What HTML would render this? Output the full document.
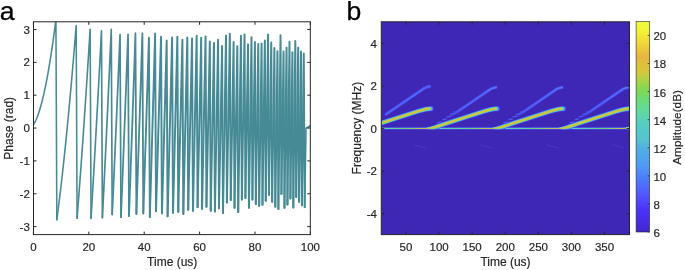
<!DOCTYPE html>
<html lang="en"><head><meta charset="utf-8"><title>Figure</title>
<style>html,body{margin:0;padding:0;background:#fff;overflow:hidden}svg{display:block}</style>
</head><body>
<svg width="685" height="270" viewBox="0 0 685 270" font-family="Liberation Sans, Arial, Helvetica, sans-serif" fill="#262626">
<defs>
<clipPath id="cl"><rect x="33.5" y="21.8" width="276.80" height="212.80"/></clipPath>
<clipPath id="cr"><rect x="381.3" y="21.8" width="248.20" height="212.80"/></clipPath>
<linearGradient id="par" x1="0" y1="1" x2="0" y2="0"><stop offset="0.0000" stop-color="#4028C8"/><stop offset="0.0573" stop-color="#482DEB"/><stop offset="0.1047" stop-color="#4B32FA"/><stop offset="0.1333" stop-color="#4E41FF"/><stop offset="0.1900" stop-color="#505FFF"/><stop offset="0.2667" stop-color="#4B82FA"/><stop offset="0.3133" stop-color="#509BF5"/><stop offset="0.4000" stop-color="#50AFE1"/><stop offset="0.4367" stop-color="#55C3D2"/><stop offset="0.5133" stop-color="#55CDC3"/><stop offset="0.5333" stop-color="#5AD2B9"/><stop offset="0.5887" stop-color="#64DC96"/><stop offset="0.6367" stop-color="#6CDA6E"/><stop offset="0.6667" stop-color="#7DD75A"/><stop offset="0.6980" stop-color="#96D74B"/><stop offset="0.7220" stop-color="#AFD246"/><stop offset="0.7600" stop-color="#D7C83A"/><stop offset="0.8000" stop-color="#E1BE3C"/><stop offset="0.8307" stop-color="#E8B441"/><stop offset="0.8833" stop-color="#EED03A"/><stop offset="0.9333" stop-color="#F4E837"/><stop offset="0.9667" stop-color="#F0F73A"/><stop offset="1.0000" stop-color="#EEFA3C"/></linearGradient>
<filter id="wb" filterUnits="userSpaceOnUse" x="20" y="10" width="300" height="235"><feGaussianBlur stdDeviation="0.3"/></filter>
<filter id="hb" filterUnits="userSpaceOnUse" x="370" y="10" width="270" height="235"><feGaussianBlur stdDeviation="0.55"/></filter>
<linearGradient id="h2" gradientUnits="objectBoundingBox" x1="0" y1="1" x2="1" y2="0"><stop offset="0" stop-color="#4848E6" stop-opacity="0"/><stop offset="0.2" stop-color="#4848E6" stop-opacity="0.9"/><stop offset="1" stop-color="#4A50F0"/></linearGradient>
<linearGradient id="h2b" gradientUnits="objectBoundingBox" x1="0" y1="1" x2="1" y2="0"><stop offset="0" stop-color="#4E60FF" stop-opacity="0"/><stop offset="0.25" stop-color="#4E60FF" stop-opacity="0.9"/><stop offset="0.85" stop-color="#5068FF"/><stop offset="1" stop-color="#5078FF"/></linearGradient>
<linearGradient id="dc" gradientUnits="userSpaceOnUse" x1="425.70" y1="0" x2="491.87" y2="0" spreadMethod="repeat"><stop offset="0" stop-color="#E6B73F"/><stop offset="0.1" stop-color="#E6B73F"/><stop offset="0.18" stop-color="#57CFC0"/><stop offset="0.45" stop-color="#61D9A0"/><stop offset="0.7" stop-color="#75D863"/><stop offset="0.9" stop-color="#BBCF42"/><stop offset="0.97" stop-color="#E1BE3C"/><stop offset="1" stop-color="#E6B73F"/></linearGradient>
</defs>
<rect width="685" height="270" fill="#fff"/>
<g font-size="26.6" fill="#000" stroke="#000" stroke-width="0.25">
<text x="-0.3" y="19.6">a</text>
<text x="346.4" y="19.6">b</text>
</g>
<g clip-path="url(#cl)"><g filter="url(#wb)" fill="none" stroke="#458A95" stroke-linejoin="round" stroke-linecap="round"><polyline stroke-width="1.55" points="33.40,124.77 34.10,123.65 34.81,122.40 35.51,121.01 36.22,119.48 36.92,117.81 37.62,115.99 38.33,114.04 39.03,111.95 39.73,109.72 40.44,107.34 41.14,104.83 41.85,102.18 42.55,99.39 43.25,96.45 43.96,93.38 44.66,90.17 45.36,86.82 46.07,83.32 46.77,79.69 47.48,75.92 48.18,72.00 48.88,67.95 49.59,63.76 50.29,59.42 50.99,54.95 51.70,50.33 52.40,45.58 53.11,40.69 53.81,35.65 54.51,30.48 55.22,25.16 55.92,19.71 56.83,219.64"/><polyline stroke-width="1.55" points="56.83,219.64 56.83,219.64 57.55,214.20 58.27,208.62 58.98,202.91 59.70,197.07 60.42,191.09 61.13,184.98 61.85,178.73 62.57,172.35 63.28,165.84 64.00,159.19 64.71,152.41 65.43,145.49 66.15,138.44 66.86,131.25 67.58,123.93 68.30,116.48 69.01,108.89 69.73,101.17 70.44,93.31 71.16,85.32 71.88,77.20 72.59,68.94 73.31,60.54 74.03,52.01 74.74,43.35 75.46,34.55 76.18,25.62 77.09,218.32"/><polyline stroke-width="1.59" points="77.09,218.32 77.09,218.32 77.81,208.98 78.54,199.51 79.26,189.90 79.99,180.15 80.71,170.26 81.44,160.24 82.16,150.07 82.89,139.77 83.61,129.34 84.33,118.77 85.06,108.05 85.78,97.21 86.51,86.22 87.23,75.10 87.96,63.84 88.68,52.44 89.41,40.91 90.13,29.24 91.04,218.32"/><polyline stroke-width="1.63" points="91.04,218.32 91.04,218.32 91.74,206.72 92.43,194.99 93.13,183.13 93.83,171.14 94.52,159.03 95.22,146.79 95.91,134.42 96.61,121.93 97.30,109.30 98.00,96.55 98.69,83.67 99.39,70.67 100.08,57.53 100.78,44.27 101.47,30.88 102.39,217.66"/><polyline stroke-width="1.67" points="102.39,217.66 102.39,217.66 103.13,202.78 103.87,187.74 104.61,172.56 105.35,157.22 106.10,141.74 106.84,126.11 107.58,110.34 108.32,94.41 109.06,78.34 109.80,62.12 110.54,45.75 111.28,29.24 112.20,214.38"/><polyline stroke-width="1.71" points="112.20,214.38 112.20,214.38 112.91,198.69 113.63,182.87 114.34,166.91 115.06,150.83 115.77,134.60 116.48,118.25 117.20,101.77 117.91,85.15 118.63,68.39 119.34,51.51 120.05,34.49 120.97,217.17"/><polyline stroke-width="1.75" points="120.97,217.17 120.97,217.17 121.68,199.49 122.39,181.68 123.09,163.73 123.80,145.65 124.51,127.43 125.22,109.08 125.93,90.59 126.64,71.97 127.35,53.22 128.06,34.33 128.97,216.02"/><polyline stroke-width="1.79" points="128.97,216.02 128.97,216.02 129.69,196.27 130.41,176.38 131.13,156.34 131.86,136.17 132.58,115.85 133.30,95.39 134.02,74.80 134.74,54.06 135.46,33.18 136.38,213.89"/><polyline stroke-width="1.83" points="136.38,213.89 136.38,213.89 137.13,191.87 137.88,169.71 138.63,147.39 139.38,124.92 140.13,102.29 140.89,79.52 141.64,56.59 142.39,33.51 143.30,213.39"/><polyline stroke-width="1.87" points="143.30,213.39 143.30,213.39 144.01,191.90 144.71,170.27 145.41,148.52 146.11,126.63 146.81,104.61 147.52,82.47 148.22,60.19 148.92,37.78 149.83,217.01"/><polyline stroke-width="1.91" points="149.83,217.01 149.83,217.01 150.59,191.27 151.34,165.37 152.10,139.32 152.85,113.11 153.61,86.73 154.36,60.20 155.12,33.51 156.03,211.26"/><polyline stroke-width="1.95" points="156.03,211.26 156.03,211.26 156.74,186.74 157.46,162.09 158.17,137.31 158.88,112.38 159.60,87.32 160.31,62.13 161.02,36.79 161.94,213.39"/><polyline stroke-width="1.95" points="161.94,213.39 161.94,213.39 162.73,184.98 163.52,156.40 164.31,127.65 165.10,98.74 165.89,69.66 166.68,40.41 167.59,216.35"/><polyline stroke-width="1.95" points="167.59,216.35 167.59,216.35 168.34,186.93 169.10,157.35 169.85,127.61 170.60,97.72 171.36,67.66 172.11,37.45 173.02,212.74"/><polyline stroke-width="1.95" points="173.02,212.74 173.02,212.74 173.75,183.77 174.47,154.66 175.19,125.41 175.91,96.02 176.63,66.48 177.35,36.79 178.26,211.75"/><polyline stroke-width="1.95" points="178.26,211.75 178.26,211.75 179.09,177.73 179.92,143.51 180.75,109.11 181.57,74.52 182.40,39.75 183.32,213.89"/><polyline stroke-width="1.95" points="183.32,213.89 183.32,213.89 184.11,178.96 184.91,143.85 185.71,108.56 186.50,73.09 187.30,37.45 188.21,209.78"/><polyline stroke-width="1.95" points="188.21,209.78 188.21,209.78 188.98,175.84 189.75,141.73 190.52,107.46 191.28,73.03 192.05,38.44 192.97,210.77"/><polyline stroke-width="1.95" points="192.97,210.77 192.97,210.77 193.71,176.09 194.45,141.25 195.19,106.26 195.93,71.11 196.67,35.81 197.58,207.15"/><polyline stroke-width="1.95" points="197.58,207.15 197.58,207.15 198.30,173.56 199.01,139.83 199.73,105.95 200.45,71.94 201.16,37.78 202.08,208.80"/><polyline stroke-width="1.95" points="202.08,208.80 202.08,208.80 202.77,174.60 203.46,140.27 204.16,105.80 204.85,71.20 205.54,36.46 206.46,206.82"/><polyline stroke-width="1.95" points="206.46,206.82 206.46,206.82 207.30,165.76 208.14,124.49 208.98,83.04 209.82,41.39 210.73,210.77"/><polyline stroke-width="1.95" points="210.73,210.77 210.73,210.77 211.55,169.11 212.36,127.27 213.18,85.25 213.99,43.03 214.91,211.42"/><polyline stroke-width="1.95" points="214.91,211.42 214.91,211.42 215.70,168.78 216.49,125.95 217.28,82.94 218.08,39.75 218.99,208.30"/><polyline stroke-width="1.95" points="218.99,208.30 218.99,208.30 219.76,167.97 220.53,127.47 221.30,86.81 222.07,45.99 222.99,213.07"/><polyline stroke-width="1.95" points="222.99,213.07 222.99,213.07 223.74,168.92 224.49,124.61 225.24,80.13 225.99,35.48 226.91,202.55"/><polyline stroke-width="1.95" points="226.91,202.55 226.91,202.55 227.64,160.61 228.37,118.50 229.10,76.25 229.83,33.84 230.75,199.93"/><polyline stroke-width="1.95" points="230.75,199.93 230.75,199.93 231.46,160.66 232.18,121.26 232.89,81.73 233.60,42.05 234.52,207.65"/><polyline stroke-width="1.95" points="234.52,207.65 234.52,207.65 235.21,167.52 235.91,127.25 236.61,86.85 237.30,46.32 238.22,212.08"/><polyline stroke-width="1.95" points="238.22,212.08 238.22,212.08 239.13,153.57 240.03,94.82 240.94,35.81 241.86,199.60"/><polyline stroke-width="1.95" points="241.86,199.60 241.86,199.60 242.74,144.79 243.63,89.76 244.52,34.49 245.43,197.95"/><polyline stroke-width="1.95" points="245.43,197.95 245.43,197.95 246.30,146.96 247.17,95.75 248.04,44.35 248.95,207.65"/><polyline stroke-width="1.95" points="248.95,207.65 248.95,207.65 249.80,151.02 250.65,94.18 251.50,37.12 252.41,199.60"/><polyline stroke-width="1.95" points="252.41,199.60 252.41,199.60 253.24,147.27 254.08,94.76 254.91,42.05 255.82,204.03"/><polyline stroke-width="1.95" points="255.82,204.03 255.82,204.03 256.64,150.88 257.45,97.55 258.27,44.02 259.18,205.67"/><polyline stroke-width="1.95" points="259.18,205.67 259.18,205.67 259.98,151.76 260.78,97.65 261.58,43.36 262.49,204.69"/><polyline stroke-width="1.95" points="262.49,204.69 262.49,204.69 263.28,150.11 264.06,95.35 264.84,40.41 265.76,200.75"/><polyline stroke-width="1.95" points="265.76,200.75 265.76,200.75 266.52,145.51 267.29,90.09 268.06,34.49 268.98,194.67"/><polyline stroke-width="1.95" points="268.98,194.67 268.98,194.67 269.73,144.06 270.49,93.30 271.24,42.38 272.15,201.73"/><polyline stroke-width="1.95" points="272.15,201.73 272.15,201.73 272.89,150.63 273.64,99.37 274.38,47.96 275.29,206.82"/><polyline stroke-width="1.95" points="275.29,206.82 275.29,206.82 276.02,155.12 276.75,103.26 277.47,51.25 278.39,209.12"/><polyline stroke-width="1.95" points="278.39,209.12 278.39,209.12 279.10,151.30 279.82,93.31 280.53,35.15 281.45,194.01"/><polyline stroke-width="1.95" points="281.45,194.01 281.45,194.01 282.15,146.66 282.85,99.19 283.55,51.58 284.47,207.81"/><polyline stroke-width="1.95" points="284.47,207.81 284.47,207.81 285.50,127.88 286.54,47.63 287.46,204.52"/><polyline stroke-width="1.95" points="287.46,204.52 287.46,204.52 288.47,123.28 289.49,41.72 290.41,198.45"/><polyline stroke-width="1.95" points="290.41,198.45 290.41,198.45 291.41,125.48 292.41,52.23 293.33,207.48"/><polyline stroke-width="1.95" points="293.33,207.48 293.33,207.48 294.31,124.43 295.30,41.06 296.22,196.97"/><polyline stroke-width="1.95" points="296.22,196.97 296.22,196.97 297.19,122.44 298.16,47.63 299.07,201.73"/><polyline stroke-width="1.95" points="299.07,201.73 299.07,201.73 300.03,126.79 300.99,51.58 301.90,205.18"/><polyline stroke-width="1.95" points="301.90,205.18 301.90,205.18 302.84,129.49 303.78,53.55 304.70,207.15"/><polyline stroke-width="1.60" points="304.70,207.15 304.70,207.15 305.36,167.65 306.02,128.05 306.52,128.05 308.46,127.06 310.40,125.42"/></g></g>
<rect x="33.5" y="21.8" width="276.80" height="212.80" fill="none" stroke="#262626" stroke-width="1.0"/>
<path d="M33.40 234.6v-3M33.40 21.8v3M88.80 234.6v-3M88.80 21.8v3M144.20 234.6v-3M144.20 21.8v3M199.60 234.6v-3M199.60 21.8v3M255.00 234.6v-3M255.00 21.8v3M310.40 234.6v-3M310.40 21.8v3M33.5 226.60h3M310.3 226.60h-3M33.5 193.75h3M310.3 193.75h-3M33.5 160.90h3M310.3 160.90h-3M33.5 128.05h3M310.3 128.05h-3M33.5 95.20h3M310.3 95.20h-3M33.5 62.35h3M310.3 62.35h-3M33.5 29.50h3M310.3 29.50h-3" stroke="#262626" stroke-width="1.0" fill="none"/>
<g font-size="11.5" stroke="#262626" stroke-width="0.18">
<text x="33.40" y="251.0" text-anchor="middle">0</text>
<text x="88.80" y="251.0" text-anchor="middle">20</text>
<text x="144.20" y="251.0" text-anchor="middle">40</text>
<text x="199.60" y="251.0" text-anchor="middle">60</text>
<text x="255.00" y="251.0" text-anchor="middle">80</text>
<text x="310.40" y="251.0" text-anchor="middle">100</text>
<text x="29.8" y="230.70" text-anchor="end">-3</text>
<text x="29.8" y="197.85" text-anchor="end">-2</text>
<text x="29.8" y="165.00" text-anchor="end">-1</text>
<text x="29.8" y="132.15" text-anchor="end">0</text>
<text x="29.8" y="99.30" text-anchor="end">1</text>
<text x="29.8" y="66.45" text-anchor="end">2</text>
<text x="29.8" y="33.60" text-anchor="end">3</text>
</g>
<g font-size="12.0" text-anchor="middle" stroke="#262626" stroke-width="0.18">
<text x="172.2" y="266.4">Time (us)</text>
<text transform="translate(12.9 128.3) rotate(-90)">Phase (rad)</text>
<text x="505.5" y="266.4">Time (us)</text>
<text transform="translate(360.7 128.1) rotate(-90)">Frequency (MHz)</text>
<text transform="translate(681.1 127.4) rotate(-90)" font-size="11.8">Amplitude(dB)</text>
</g>
<rect x="381.3" y="21.8" width="248.20" height="212.80" fill="#3F27B6"/>
<g clip-path="url(#cr)" fill="none" stroke-linecap="round"><g filter="url(#hb)">
<line x1="376.3" y1="128.4" x2="634.5" y2="128.4" stroke="#4F4CFF" stroke-width="2.0" stroke-linecap="butt"/>
<line x1="376.3" y1="128.4" x2="634.5" y2="128.4" stroke="#50A7E9" stroke-width="1.4" stroke-linecap="butt"/>
<rect x="376.3" y="127.97" width="258.20" height="0.86" fill="url(#dc)"/>
<path d="M386.03 114.30 L424.53 88.00 L428.03 86.70 L429.73 86.40" stroke="#4A50F0" stroke-width="2.9" stroke-linejoin="round"/>
<path d="M386.03 114.30 L424.53 88.00 L428.03 86.70 L429.73 86.40" stroke="#4F64FF" stroke-width="1.6" stroke-linejoin="round"/>
<line x1="415.03" y1="144.93" x2="426.03" y2="148.03" stroke="#4535CC" stroke-width="1.1"/>
<path d="M449.70 117.00 L490.70 89.00 L494.20 87.70 L495.90 87.40" stroke="url(#h2)" stroke-width="2.9" stroke-linejoin="round"/>
<path d="M449.70 117.00 L490.70 89.00 L494.20 87.70 L495.90 87.40" stroke="url(#h2b)" stroke-width="1.6" stroke-linejoin="round"/>
<line x1="438.00" y1="122.70" x2="441.70" y2="122.10" stroke="#4A58F2" stroke-width="1.4"/>
<line x1="442.80" y1="119.60" x2="446.00" y2="119.00" stroke="#4A58F2" stroke-width="1.4"/>
<line x1="446.90" y1="116.90" x2="450.50" y2="116.30" stroke="#4A58F2" stroke-width="1.4"/>
<line x1="450.50" y1="114.40" x2="454.00" y2="113.80" stroke="#4A58F2" stroke-width="1.4"/>
<line x1="454.20" y1="112.10" x2="457.70" y2="111.50" stroke="#4A58F2" stroke-width="1.4"/>
<line x1="481.20" y1="144.93" x2="492.20" y2="148.03" stroke="#4535CC" stroke-width="1.1"/>
<path d="M515.87 117.00 L556.87 89.00 L560.37 87.70 L562.07 87.40" stroke="url(#h2)" stroke-width="2.9" stroke-linejoin="round"/>
<path d="M515.87 117.00 L556.87 89.00 L560.37 87.70 L562.07 87.40" stroke="url(#h2b)" stroke-width="1.6" stroke-linejoin="round"/>
<line x1="504.17" y1="122.70" x2="507.87" y2="122.10" stroke="#4A58F2" stroke-width="1.4"/>
<line x1="508.97" y1="119.60" x2="512.17" y2="119.00" stroke="#4A58F2" stroke-width="1.4"/>
<line x1="513.07" y1="116.90" x2="516.67" y2="116.30" stroke="#4A58F2" stroke-width="1.4"/>
<line x1="516.67" y1="114.40" x2="520.17" y2="113.80" stroke="#4A58F2" stroke-width="1.4"/>
<line x1="520.37" y1="112.10" x2="523.87" y2="111.50" stroke="#4A58F2" stroke-width="1.4"/>
<line x1="547.37" y1="144.93" x2="558.37" y2="148.03" stroke="#4535CC" stroke-width="1.1"/>
<path d="M582.04 117.00 L623.04 89.00 L626.54 87.70 L628.24 87.40" stroke="url(#h2)" stroke-width="2.9" stroke-linejoin="round"/>
<path d="M582.04 117.00 L623.04 89.00 L626.54 87.70 L628.24 87.40" stroke="url(#h2b)" stroke-width="1.6" stroke-linejoin="round"/>
<line x1="570.34" y1="122.70" x2="574.04" y2="122.10" stroke="#4A58F2" stroke-width="1.4"/>
<line x1="575.14" y1="119.60" x2="578.34" y2="119.00" stroke="#4A58F2" stroke-width="1.4"/>
<line x1="579.24" y1="116.90" x2="582.84" y2="116.30" stroke="#4A58F2" stroke-width="1.4"/>
<line x1="582.84" y1="114.40" x2="586.34" y2="113.80" stroke="#4A58F2" stroke-width="1.4"/>
<line x1="586.54" y1="112.10" x2="590.04" y2="111.50" stroke="#4A58F2" stroke-width="1.4"/>
<line x1="613.54" y1="144.93" x2="624.54" y2="148.03" stroke="#4535CC" stroke-width="1.1"/>
<path d="M648.21 117.00 L689.21 89.00 L692.71 87.70 L694.41 87.40" stroke="url(#h2)" stroke-width="2.9" stroke-linejoin="round"/>
<path d="M648.21 117.00 L689.21 89.00 L692.71 87.70 L694.41 87.40" stroke="url(#h2b)" stroke-width="1.6" stroke-linejoin="round"/>
<line x1="636.51" y1="122.70" x2="640.21" y2="122.10" stroke="#4A58F2" stroke-width="1.4"/>
<line x1="641.31" y1="119.60" x2="644.51" y2="119.00" stroke="#4A58F2" stroke-width="1.4"/>
<line x1="645.41" y1="116.90" x2="649.01" y2="116.30" stroke="#4A58F2" stroke-width="1.4"/>
<line x1="649.01" y1="114.40" x2="652.51" y2="113.80" stroke="#4A58F2" stroke-width="1.4"/>
<line x1="652.71" y1="112.10" x2="656.21" y2="111.50" stroke="#4A58F2" stroke-width="1.4"/>
<line x1="679.71" y1="144.93" x2="690.71" y2="148.03" stroke="#4535CC" stroke-width="1.1"/>
<path d="M359.93 127.75 L363.53 126.67 L367.33 125.34 L371.03 123.90 L374.53 122.80 L378.83 121.20 L418.53 108.50 L424.53 106.90 L429.23 106.20 L431.23 106.10 L431.23 111.30 L429.23 111.40 L424.53 112.10 L418.53 113.70 L378.83 126.40 L374.53 128.00 L371.03 129.10 L367.33 129.76 L363.53 129.53 L359.93 129.05Z" fill="#4D3AFD" stroke="none"/><circle cx="431.23" cy="108.70" r="2.60" fill="#4D3AFD"/>
<path d="M426.10 127.75 L429.70 126.67 L433.50 125.34 L437.20 123.90 L440.70 122.80 L445.00 121.20 L484.70 108.50 L490.70 106.90 L495.40 106.20 L497.40 106.10 L497.40 111.30 L495.40 111.40 L490.70 112.10 L484.70 113.70 L445.00 126.40 L440.70 128.00 L437.20 129.10 L433.50 129.76 L429.70 129.53 L426.10 129.05Z" fill="#4D3AFD" stroke="none"/><circle cx="497.40" cy="108.70" r="2.60" fill="#4D3AFD"/>
<path d="M492.27 127.75 L495.87 126.67 L499.67 125.34 L503.37 123.90 L506.87 122.80 L511.17 121.20 L550.87 108.50 L556.87 106.90 L561.57 106.20 L563.57 106.10 L563.57 111.30 L561.57 111.40 L556.87 112.10 L550.87 113.70 L511.17 126.40 L506.87 128.00 L503.37 129.10 L499.67 129.76 L495.87 129.53 L492.27 129.05Z" fill="#4D3AFD" stroke="none"/><circle cx="563.57" cy="108.70" r="2.60" fill="#4D3AFD"/>
<path d="M558.44 127.75 L562.04 126.67 L565.84 125.34 L569.54 123.90 L573.04 122.80 L577.34 121.20 L617.04 108.50 L623.04 106.90 L627.74 106.20 L629.74 106.10 L629.74 111.30 L627.74 111.40 L623.04 112.10 L617.04 113.70 L577.34 126.40 L573.04 128.00 L569.54 129.10 L565.84 129.76 L562.04 129.53 L558.44 129.05Z" fill="#4D3AFD" stroke="none"/><circle cx="629.74" cy="108.70" r="2.60" fill="#4D3AFD"/>
<path d="M624.61 127.75 L628.21 126.67 L632.01 125.34 L635.71 123.90 L639.21 122.80 L643.51 121.20 L683.21 108.50 L689.21 106.90 L693.91 106.20 L695.91 106.10 L695.91 111.30 L693.91 111.40 L689.21 112.10 L683.21 113.70 L643.51 126.40 L639.21 128.00 L635.71 129.10 L632.01 129.76 L628.21 129.53 L624.61 129.05Z" fill="#4D3AFD" stroke="none"/><circle cx="695.91" cy="108.70" r="2.60" fill="#4D3AFD"/>
<path d="M359.93 127.84 L363.53 126.87 L367.33 125.65 L371.03 124.26 L374.53 123.16 L378.83 121.56 L418.53 108.86 L424.53 107.26 L428.85 106.56 L430.85 106.46 L430.85 110.94 L428.85 111.04 L424.53 111.74 L418.53 113.34 L378.83 126.04 L374.53 127.64 L371.03 128.74 L367.33 129.45 L363.53 129.33 L359.93 128.96Z" fill="#4E6DFD" stroke="none"/><circle cx="430.85" cy="108.70" r="2.24" fill="#4E6DFD"/>
<path d="M426.10 127.84 L429.70 126.87 L433.50 125.65 L437.20 124.26 L440.70 123.16 L445.00 121.56 L484.70 108.86 L490.70 107.26 L495.02 106.56 L497.02 106.46 L497.02 110.94 L495.02 111.04 L490.70 111.74 L484.70 113.34 L445.00 126.04 L440.70 127.64 L437.20 128.74 L433.50 129.45 L429.70 129.33 L426.10 128.96Z" fill="#4E6DFD" stroke="none"/><circle cx="497.02" cy="108.70" r="2.24" fill="#4E6DFD"/>
<path d="M492.27 127.84 L495.87 126.87 L499.67 125.65 L503.37 124.26 L506.87 123.16 L511.17 121.56 L550.87 108.86 L556.87 107.26 L561.19 106.56 L563.19 106.46 L563.19 110.94 L561.19 111.04 L556.87 111.74 L550.87 113.34 L511.17 126.04 L506.87 127.64 L503.37 128.74 L499.67 129.45 L495.87 129.33 L492.27 128.96Z" fill="#4E6DFD" stroke="none"/><circle cx="563.19" cy="108.70" r="2.24" fill="#4E6DFD"/>
<path d="M558.44 127.84 L562.04 126.87 L565.84 125.65 L569.54 124.26 L573.04 123.16 L577.34 121.56 L617.04 108.86 L623.04 107.26 L627.36 106.56 L629.36 106.46 L629.36 110.94 L627.36 111.04 L623.04 111.74 L617.04 113.34 L577.34 126.04 L573.04 127.64 L569.54 128.74 L565.84 129.45 L562.04 129.33 L558.44 128.96Z" fill="#4E6DFD" stroke="none"/><circle cx="629.36" cy="108.70" r="2.24" fill="#4E6DFD"/>
<path d="M624.61 127.84 L628.21 126.87 L632.01 125.65 L635.71 124.26 L639.21 123.16 L643.51 121.56 L683.21 108.86 L689.21 107.26 L693.53 106.56 L695.53 106.46 L695.53 110.94 L693.53 111.04 L689.21 111.74 L683.21 113.34 L643.51 126.04 L639.21 127.64 L635.71 128.74 L632.01 129.45 L628.21 129.33 L624.61 128.96Z" fill="#4E6DFD" stroke="none"/><circle cx="695.53" cy="108.70" r="2.24" fill="#4E6DFD"/>
<path d="M359.93 127.92 L363.53 127.04 L367.33 125.91 L371.03 124.58 L374.53 123.48 L378.83 121.88 L418.53 109.18 L424.53 107.58 L428.46 106.88 L430.46 106.78 L430.46 110.62 L428.46 110.72 L424.53 111.42 L418.53 113.02 L378.83 125.72 L374.53 127.32 L371.03 128.42 L367.33 129.19 L363.53 129.16 L359.93 128.88Z" fill="#50A4EC" stroke="none"/><circle cx="430.46" cy="108.70" r="1.92" fill="#50A4EC"/>
<path d="M426.10 127.92 L429.70 127.04 L433.50 125.91 L437.20 124.58 L440.70 123.48 L445.00 121.88 L484.70 109.18 L490.70 107.58 L494.63 106.88 L496.63 106.78 L496.63 110.62 L494.63 110.72 L490.70 111.42 L484.70 113.02 L445.00 125.72 L440.70 127.32 L437.20 128.42 L433.50 129.19 L429.70 129.16 L426.10 128.88Z" fill="#50A4EC" stroke="none"/><circle cx="496.63" cy="108.70" r="1.92" fill="#50A4EC"/>
<path d="M492.27 127.92 L495.87 127.04 L499.67 125.91 L503.37 124.58 L506.87 123.48 L511.17 121.88 L550.87 109.18 L556.87 107.58 L560.80 106.88 L562.80 106.78 L562.80 110.62 L560.80 110.72 L556.87 111.42 L550.87 113.02 L511.17 125.72 L506.87 127.32 L503.37 128.42 L499.67 129.19 L495.87 129.16 L492.27 128.88Z" fill="#50A4EC" stroke="none"/><circle cx="562.80" cy="108.70" r="1.92" fill="#50A4EC"/>
<path d="M558.44 127.92 L562.04 127.04 L565.84 125.91 L569.54 124.58 L573.04 123.48 L577.34 121.88 L617.04 109.18 L623.04 107.58 L626.97 106.88 L628.97 106.78 L628.97 110.62 L626.97 110.72 L623.04 111.42 L617.04 113.02 L577.34 125.72 L573.04 127.32 L569.54 128.42 L565.84 129.19 L562.04 129.16 L558.44 128.88Z" fill="#50A4EC" stroke="none"/><circle cx="628.97" cy="108.70" r="1.92" fill="#50A4EC"/>
<path d="M624.61 127.92 L628.21 127.04 L632.01 125.91 L635.71 124.58 L639.21 123.48 L643.51 121.88 L683.21 109.18 L689.21 107.58 L693.14 106.88 L695.14 106.78 L695.14 110.62 L693.14 110.72 L689.21 111.42 L683.21 113.02 L643.51 125.72 L639.21 127.32 L635.71 128.42 L632.01 129.19 L628.21 129.16 L624.61 128.88Z" fill="#50A4EC" stroke="none"/><circle cx="695.14" cy="108.70" r="1.92" fill="#50A4EC"/>
<path d="M359.93 127.98 L363.53 127.18 L367.33 126.14 L371.03 124.84 L374.53 123.74 L378.83 122.14 L418.53 109.44 L424.53 107.84 L428.08 107.14 L430.08 107.04 L430.08 110.36 L428.08 110.46 L424.53 111.16 L418.53 112.76 L378.83 125.46 L374.53 127.06 L371.03 128.16 L367.33 128.96 L363.53 129.02 L359.93 128.82Z" fill="#55CAC8" stroke="none"/><circle cx="430.08" cy="108.70" r="1.66" fill="#55CAC8"/>
<path d="M426.10 127.98 L429.70 127.18 L433.50 126.14 L437.20 124.84 L440.70 123.74 L445.00 122.14 L484.70 109.44 L490.70 107.84 L494.25 107.14 L496.25 107.04 L496.25 110.36 L494.25 110.46 L490.70 111.16 L484.70 112.76 L445.00 125.46 L440.70 127.06 L437.20 128.16 L433.50 128.96 L429.70 129.02 L426.10 128.82Z" fill="#55CAC8" stroke="none"/><circle cx="496.25" cy="108.70" r="1.66" fill="#55CAC8"/>
<path d="M492.27 127.98 L495.87 127.18 L499.67 126.14 L503.37 124.84 L506.87 123.74 L511.17 122.14 L550.87 109.44 L556.87 107.84 L560.42 107.14 L562.42 107.04 L562.42 110.36 L560.42 110.46 L556.87 111.16 L550.87 112.76 L511.17 125.46 L506.87 127.06 L503.37 128.16 L499.67 128.96 L495.87 129.02 L492.27 128.82Z" fill="#55CAC8" stroke="none"/><circle cx="562.42" cy="108.70" r="1.66" fill="#55CAC8"/>
<path d="M558.44 127.98 L562.04 127.18 L565.84 126.14 L569.54 124.84 L573.04 123.74 L577.34 122.14 L617.04 109.44 L623.04 107.84 L626.59 107.14 L628.59 107.04 L628.59 110.36 L626.59 110.46 L623.04 111.16 L617.04 112.76 L577.34 125.46 L573.04 127.06 L569.54 128.16 L565.84 128.96 L562.04 129.02 L558.44 128.82Z" fill="#55CAC8" stroke="none"/><circle cx="628.59" cy="108.70" r="1.66" fill="#55CAC8"/>
<path d="M624.61 127.98 L628.21 127.18 L632.01 126.14 L635.71 124.84 L639.21 123.74 L643.51 122.14 L683.21 109.44 L689.21 107.84 L692.76 107.14 L694.76 107.04 L694.76 110.36 L692.76 110.46 L689.21 111.16 L683.21 112.76 L643.51 125.46 L639.21 127.06 L635.71 128.16 L632.01 128.96 L628.21 129.02 L624.61 128.82Z" fill="#55CAC8" stroke="none"/><circle cx="694.76" cy="108.70" r="1.66" fill="#55CAC8"/>
<path d="M359.93 128.05 L363.53 127.33 L367.33 126.36 L371.03 125.10 L374.53 124.00 L378.83 122.40 L418.53 109.70 L424.53 108.10 L427.70 107.40 L429.70 107.30 L429.70 110.10 L427.70 110.20 L424.53 110.90 L418.53 112.50 L378.83 125.20 L374.53 126.80 L371.03 127.90 L367.33 128.74 L363.53 128.87 L359.93 128.75Z" fill="#66DC8D" stroke="none"/><circle cx="429.70" cy="108.70" r="1.40" fill="#66DC8D"/>
<path d="M426.10 128.05 L429.70 127.33 L433.50 126.36 L437.20 125.10 L440.70 124.00 L445.00 122.40 L484.70 109.70 L490.70 108.10 L493.87 107.40 L495.87 107.30 L495.87 110.10 L493.87 110.20 L490.70 110.90 L484.70 112.50 L445.00 125.20 L440.70 126.80 L437.20 127.90 L433.50 128.74 L429.70 128.87 L426.10 128.75Z" fill="#66DC8D" stroke="none"/><circle cx="495.87" cy="108.70" r="1.40" fill="#66DC8D"/>
<path d="M492.27 128.05 L495.87 127.33 L499.67 126.36 L503.37 125.10 L506.87 124.00 L511.17 122.40 L550.87 109.70 L556.87 108.10 L560.04 107.40 L562.04 107.30 L562.04 110.10 L560.04 110.20 L556.87 110.90 L550.87 112.50 L511.17 125.20 L506.87 126.80 L503.37 127.90 L499.67 128.74 L495.87 128.87 L492.27 128.75Z" fill="#66DC8D" stroke="none"/><circle cx="562.04" cy="108.70" r="1.40" fill="#66DC8D"/>
<path d="M558.44 128.05 L562.04 127.33 L565.84 126.36 L569.54 125.10 L573.04 124.00 L577.34 122.40 L617.04 109.70 L623.04 108.10 L626.21 107.40 L628.21 107.30 L628.21 110.10 L626.21 110.20 L623.04 110.90 L617.04 112.50 L577.34 125.20 L573.04 126.80 L569.54 127.90 L565.84 128.74 L562.04 128.87 L558.44 128.75Z" fill="#66DC8D" stroke="none"/><circle cx="628.21" cy="108.70" r="1.40" fill="#66DC8D"/>
<path d="M624.61 128.05 L628.21 127.33 L632.01 126.36 L635.71 125.10 L639.21 124.00 L643.51 122.40 L683.21 109.70 L689.21 108.10 L692.38 107.40 L694.38 107.30 L694.38 110.10 L692.38 110.20 L689.21 110.90 L683.21 112.50 L643.51 125.20 L639.21 126.80 L635.71 127.90 L632.01 128.74 L628.21 128.87 L624.61 128.75Z" fill="#66DC8D" stroke="none"/><circle cx="694.38" cy="108.70" r="1.40" fill="#66DC8D"/>
<path d="M359.93 128.13 L363.53 127.50 L367.33 126.62 L371.03 125.41 L374.53 124.31 L378.83 122.71 L418.53 110.01 L424.53 108.41 L427.31 107.71 L429.31 107.61 L429.31 109.79 L427.31 109.89 L424.53 110.59 L418.53 112.19 L378.83 124.89 L374.53 126.49 L371.03 127.59 L367.33 128.48 L363.53 128.70 L359.93 128.67Z" fill="#9FD549" stroke="none"/><circle cx="429.31" cy="108.70" r="1.09" fill="#9FD549"/>
<path d="M426.10 128.13 L429.70 127.50 L433.50 126.62 L437.20 125.41 L440.70 124.31 L445.00 122.71 L484.70 110.01 L490.70 108.41 L493.48 107.71 L495.48 107.61 L495.48 109.79 L493.48 109.89 L490.70 110.59 L484.70 112.19 L445.00 124.89 L440.70 126.49 L437.20 127.59 L433.50 128.48 L429.70 128.70 L426.10 128.67Z" fill="#9FD549" stroke="none"/><circle cx="495.48" cy="108.70" r="1.09" fill="#9FD549"/>
<path d="M492.27 128.13 L495.87 127.50 L499.67 126.62 L503.37 125.41 L506.87 124.31 L511.17 122.71 L550.87 110.01 L556.87 108.41 L559.65 107.71 L561.65 107.61 L561.65 109.79 L559.65 109.89 L556.87 110.59 L550.87 112.19 L511.17 124.89 L506.87 126.49 L503.37 127.59 L499.67 128.48 L495.87 128.70 L492.27 128.67Z" fill="#9FD549" stroke="none"/><circle cx="561.65" cy="108.70" r="1.09" fill="#9FD549"/>
<path d="M558.44 128.13 L562.04 127.50 L565.84 126.62 L569.54 125.41 L573.04 124.31 L577.34 122.71 L617.04 110.01 L623.04 108.41 L625.82 107.71 L627.82 107.61 L627.82 109.79 L625.82 109.89 L623.04 110.59 L617.04 112.19 L577.34 124.89 L573.04 126.49 L569.54 127.59 L565.84 128.48 L562.04 128.70 L558.44 128.67Z" fill="#9FD549" stroke="none"/><circle cx="627.82" cy="108.70" r="1.09" fill="#9FD549"/>
<path d="M624.61 128.13 L628.21 127.50 L632.01 126.62 L635.71 125.41 L639.21 124.31 L643.51 122.71 L683.21 110.01 L689.21 108.41 L691.99 107.71 L693.99 107.61 L693.99 109.79 L691.99 109.89 L689.21 110.59 L683.21 112.19 L643.51 124.89 L639.21 126.49 L635.71 127.59 L632.01 128.48 L628.21 128.70 L624.61 128.67Z" fill="#9FD549" stroke="none"/><circle cx="693.99" cy="108.70" r="1.09" fill="#9FD549"/>
<path d="M359.93 128.21 L363.53 127.67 L367.33 126.89 L371.03 125.72 L374.53 124.62 L378.83 123.02 L418.53 110.32 L424.53 108.72 L426.93 108.02 L428.93 107.92 L428.93 109.48 L426.93 109.58 L424.53 110.28 L418.53 111.88 L378.83 124.58 L374.53 126.18 L371.03 127.28 L367.33 128.21 L363.53 128.53 L359.93 128.59Z" fill="#E0BF3C" stroke="none"/><circle cx="428.93" cy="108.70" r="0.78" fill="#E0BF3C"/>
<path d="M426.10 128.21 L429.70 127.67 L433.50 126.89 L437.20 125.72 L440.70 124.62 L445.00 123.02 L484.70 110.32 L490.70 108.72 L493.10 108.02 L495.10 107.92 L495.10 109.48 L493.10 109.58 L490.70 110.28 L484.70 111.88 L445.00 124.58 L440.70 126.18 L437.20 127.28 L433.50 128.21 L429.70 128.53 L426.10 128.59Z" fill="#E0BF3C" stroke="none"/><circle cx="495.10" cy="108.70" r="0.78" fill="#E0BF3C"/>
<path d="M492.27 128.21 L495.87 127.67 L499.67 126.89 L503.37 125.72 L506.87 124.62 L511.17 123.02 L550.87 110.32 L556.87 108.72 L559.27 108.02 L561.27 107.92 L561.27 109.48 L559.27 109.58 L556.87 110.28 L550.87 111.88 L511.17 124.58 L506.87 126.18 L503.37 127.28 L499.67 128.21 L495.87 128.53 L492.27 128.59Z" fill="#E0BF3C" stroke="none"/><circle cx="561.27" cy="108.70" r="0.78" fill="#E0BF3C"/>
<path d="M558.44 128.21 L562.04 127.67 L565.84 126.89 L569.54 125.72 L573.04 124.62 L577.34 123.02 L617.04 110.32 L623.04 108.72 L625.44 108.02 L627.44 107.92 L627.44 109.48 L625.44 109.58 L623.04 110.28 L617.04 111.88 L577.34 124.58 L573.04 126.18 L569.54 127.28 L565.84 128.21 L562.04 128.53 L558.44 128.59Z" fill="#E0BF3C" stroke="none"/><circle cx="627.44" cy="108.70" r="0.78" fill="#E0BF3C"/>
<path d="M624.61 128.21 L628.21 127.67 L632.01 126.89 L635.71 125.72 L639.21 124.62 L643.51 123.02 L683.21 110.32 L689.21 108.72 L691.61 108.02 L693.61 107.92 L693.61 109.48 L691.61 109.58 L689.21 110.28 L683.21 111.88 L643.51 124.58 L639.21 126.18 L635.71 127.28 L632.01 128.21 L628.21 128.53 L624.61 128.59Z" fill="#E0BF3C" stroke="none"/><circle cx="693.61" cy="108.70" r="0.78" fill="#E0BF3C"/>
</g></g>
<rect x="381.3" y="21.8" width="248.20" height="212.80" fill="none" stroke="#262626" stroke-width="1.0"/>
<path d="M406.00 234.6v-3M406.00 21.8v3M439.08 234.6v-3M439.08 21.8v3M472.17 234.6v-3M472.17 21.8v3M505.25 234.6v-3M505.25 21.8v3M538.34 234.6v-3M538.34 21.8v3M571.42 234.6v-3M571.42 21.8v3M604.51 234.6v-3M604.51 21.8v3M381.3 213.80h3M629.5 213.80h-3M381.3 171.20h3M629.5 171.20h-3M381.3 128.60h3M629.5 128.60h-3M381.3 86.00h3M629.5 86.00h-3M381.3 43.40h3M629.5 43.40h-3" stroke="#262626" stroke-width="1.0" fill="none"/>
<g font-size="11.5" stroke="#262626" stroke-width="0.18">
<text x="406.00" y="251.0" text-anchor="middle">50</text>
<text x="439.08" y="251.0" text-anchor="middle">100</text>
<text x="472.17" y="251.0" text-anchor="middle">150</text>
<text x="505.25" y="251.0" text-anchor="middle">200</text>
<text x="538.34" y="251.0" text-anchor="middle">250</text>
<text x="571.42" y="251.0" text-anchor="middle">300</text>
<text x="604.51" y="251.0" text-anchor="middle">350</text>
<text x="377.0" y="217.90" text-anchor="end">-4</text>
<text x="377.0" y="175.30" text-anchor="end">-2</text>
<text x="377.0" y="132.70" text-anchor="end">0</text>
<text x="377.0" y="90.10" text-anchor="end">2</text>
<text x="377.0" y="47.50" text-anchor="end">4</text>
<rect x="636.1" y="21.4" width="13.50" height="210.60" fill="url(#par)" stroke="#262626" stroke-width="0.6"/>
<text x="653.4" y="237.00">6</text>
<text x="653.4" y="208.90">8</text>
<text x="653.4" y="180.80">10</text>
<text x="653.4" y="152.70">12</text>
<text x="653.4" y="124.60">14</text>
<text x="653.4" y="96.50">16</text>
<text x="653.4" y="68.40">18</text>
<text x="653.4" y="40.30">20</text>
</g>
<path d="M649.6 232.10h-2M649.6 204.00h-2M649.6 175.90h-2M649.6 147.80h-2M649.6 119.70h-2M649.6 91.60h-2M649.6 63.50h-2M649.6 35.40h-2" stroke="#262626" stroke-width="0.7" fill="none"/>
</svg>
</body></html>
